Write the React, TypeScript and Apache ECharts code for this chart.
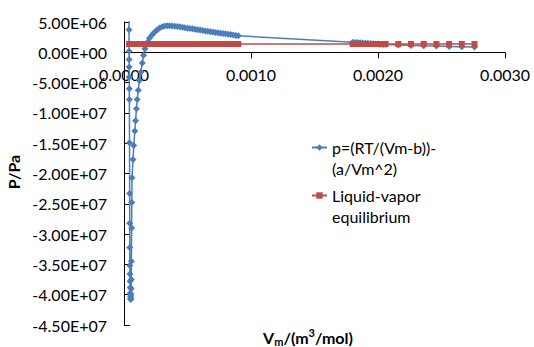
import React, { useEffect, useRef } from "react";
import * as echarts from "echarts";

// Axis ranges / ticks
const X_MIN = 0;
const X_MAX = 0.003;
const X_STEP = 0.001;
const Y_MIN = -4.5e7;
const Y_MAX = 5e6;
const Y_STEP = 5e6;

const seriesNames = ["p=(RT/(Vm-b))-(a/Vm^2)", "Liquid-vapor equilibrium"];
const legendLabels: Record<string, string> = {
  "p=(RT/(Vm-b))-(a/Vm^2)": "p=(RT/(Vm-b))-\n(a/Vm^2)",
  "Liquid-vapor equilibrium": "Liquid-vapor\nequilibrium",
};

// van der Waals isotherm: [Vm (m3/mol), p (Pa)]
const vdwLiquidBranch: [number, number][] = [
  [3.9e-5, 1.2e7], [3.95e-5, 3.74e6], [4.0e-5, 1.6e5], [4.05e-5, -1.2e6],
  [4.1e-5, -2.41e6], [4.15e-5, -4.06e6], [4.2e-5, -6.03e6], [4.25e-5, -7.8e6],
  [4.35e-5, -1.494e7], [4.45e-5, -2.33e7], [4.5e-5, -2.82e7], [4.55e-5, -3.22e7],
  [4.6e-5, -3.52e7], [4.7e-5, -3.66e7], [4.8e-5, -3.78e7], [4.9e-5, -3.88e7],
  [5.0e-5, -3.97e7], [5.1e-5, -4.03e7], [5.2e-5, -4.07e7], [5.3e-5, -4.08e7],
  [5.4e-5, -4.06e7], [5.5e-5, -4.0e7], [5.6e-5, -3.9e7], [5.7e-5, -3.75e7],
  [5.8e-5, -3.45e7], [6.0e-5, -2.9e7], [6.15e-5, -2.48e7], [6.3e-5, -2.07e7],
  [7.1e-5, -1.77e7], [7.7e-5, -1.54e7], [8.5e-5, -1.3e7], [9.1e-5, -1.13e7],
  [9.8e-5, -9.33e6], [1.04e-4, -7.8e6], [1.12e-4, -6.26e6], [1.21e-4, -4.67e6],
  [1.32e-4, -3.3e6], [1.44e-4, -1.75e6], [1.54e-4, -5.0e5], [1.65e-4, 6.0e5],
  [1.79e-4, 1.3e6], [1.9e-4, 1.75e6],
];

const vdwHump: [number, number][] = [
  [2.0e-4, 2.3e6], [2.2e-4, 2.85e6], [2.4e-4, 3.3e6], [2.6e-4, 3.7e6],
  [2.8e-4, 4.0e6], [3.0e-4, 4.2e6], [3.2e-4, 4.32e6], [3.4e-4, 4.38e6],
  [3.6e-4, 4.38e6], [3.8e-4, 4.35e6], [4.0e-4, 4.3e6], [4.2e-4, 4.25e6],
  [4.4e-4, 4.2e6], [4.6e-4, 4.12e6], [4.8e-4, 4.05e6], [5.0e-4, 3.98e6],
  [5.2e-4, 3.92e6], [5.4e-4, 3.87e6], [5.6e-4, 3.8e6], [5.8e-4, 3.73e6],
  [6.0e-4, 3.66e6], [6.2e-4, 3.6e6], [6.4e-4, 3.53e6], [6.6e-4, 3.46e6],
  [6.8e-4, 3.4e6], [7.0e-4, 3.34e6], [7.2e-4, 3.28e6], [7.4e-4, 3.22e6],
  [7.6e-4, 3.16e6], [7.8e-4, 3.1e6], [8.0e-4, 3.05e6], [8.2e-4, 2.98e6],
  [8.4e-4, 2.92e6], [8.6e-4, 2.85e6], [8.8e-4, 2.78e6], [9.0e-4, 2.72e6],
];

const vdwGasBranch: [number, number][] = [
  [1.80e-3, 1.66e6], [1.82e-3, 1.63e6], [1.84e-3, 1.6e6], [1.86e-3, 1.57e6],
  [1.88e-3, 1.54e6], [1.90e-3, 1.51e6], [1.92e-3, 1.48e6], [1.94e-3, 1.45e6],
  [1.96e-3, 1.42e6], [1.98e-3, 1.39e6], [2.00e-3, 1.36e6], [2.02e-3, 1.33e6],
  [2.04e-3, 1.3e6], [2.06e-3, 1.27e6],
  [2.16e-3, 1.2e6], [2.26e-3, 1.13e6], [2.36e-3, 1.07e6], [2.46e-3, 1.02e6],
  [2.56e-3, 9.7e5], [2.66e-3, 9.3e5], [2.76e-3, 8.9e5],
];

// Liquid-vapor equilibrium (constant pressure line)
const equilibriumP = 1.37e6;
const equilibriumVm: number[] = [
  4e-5, 6e-5, 8e-5, 1.0e-4, 1.2e-4, 1.4e-4, 1.6e-4, 1.8e-4, 2.0e-4, 2.2e-4,
  2.4e-4, 2.6e-4, 2.8e-4, 3.0e-4, 3.2e-4, 3.4e-4, 3.6e-4, 3.8e-4, 4.0e-4, 4.2e-4,
  4.4e-4, 4.6e-4, 4.8e-4, 5.0e-4, 5.2e-4, 5.4e-4, 5.6e-4, 5.8e-4, 6.0e-4, 6.2e-4,
  6.4e-4, 6.6e-4, 6.8e-4, 7.0e-4, 7.2e-4, 7.4e-4, 7.6e-4, 7.8e-4, 8.0e-4, 8.2e-4,
  8.4e-4, 8.6e-4, 8.8e-4, 9.0e-4,
  1.80e-3, 1.82e-3, 1.84e-3, 1.86e-3, 1.88e-3, 1.90e-3, 1.92e-3, 1.94e-3,
  1.96e-3, 1.98e-3, 2.00e-3, 2.02e-3, 2.04e-3, 2.06e-3,
  2.16e-3, 2.26e-3, 2.36e-3, 2.46e-3, 2.56e-3, 2.66e-3, 2.76e-3,
];

const BLUE = "#4A7EBB";
const RED = "#BE4B48";
const FONT = "Lato";

const GRID = { left: 124, top: 22, width: 381, height: 303 };

function sci(v: number): string {
  if (Math.abs(v) < 1e-3) return "0.00E+00";
  const e = Math.floor(Math.log10(Math.abs(v)) + 1e-9);
  const m = v / Math.pow(10, e);
  return m.toFixed(2) + "E" + (e < 0 ? "-" : "+") + String(Math.abs(e)).padStart(2, "0");
}

export default function App() {
  const ref = useRef<HTMLDivElement>(null);
  useEffect(() => {
    if (!ref.current) return;
    const chart = echarts.init(ref.current, undefined, { renderer: "svg" });
    const blueData = [...vdwLiquidBranch, ...vdwHump, ...vdwGasBranch];
    const redData = equilibriumVm.map((v) => [v, equilibriumP]);
    // x axis crosses the value axis at p = 0
    const xAxisOffset = -GRID.height * ((0 - Y_MIN) / (Y_MAX - Y_MIN));
    const legendCommon = {
      orient: "vertical" as const,
      left: 311,
      itemWidth: 15,
      itemHeight: 8,
      padding: 0,
      selectedMode: false,
      // leading blank line keeps the icon level with the first text line
      formatter: (n: string) => "\n" + (legendLabels[n] ?? n),
      textStyle: {
        fontFamily: FONT,
        fontSize: 16,
        color: "#000",
        lineHeight: 21,
      },
    };
    chart.setOption({
      animation: false,
      textStyle: { fontFamily: FONT },
      grid: { ...GRID, containLabel: false, outerBoundsMode: "none" },
      xAxis: {
        type: "value",
        position: "bottom",
        offset: xAxisOffset,
        min: X_MIN,
        max: X_MAX,
        interval: X_STEP,
        axisLine: { show: true, onZero: false, lineStyle: { color: "#000", width: 1 } },
        axisTick: { show: true, inside: false, length: 6, lineStyle: { color: "#000" } },
        axisLabel: {
          formatter: (v: number) => v.toFixed(4),
          color: "#000",
          fontSize: 16,
          fontFamily: FONT,
          margin: 14,
        },
        splitLine: { show: false },
      },
      yAxis: {
        type: "value",
        min: Y_MIN,
        max: Y_MAX,
        interval: Y_STEP,
        axisLine: { show: true, onZero: false, lineStyle: { color: "#000", width: 1 } },
        axisTick: { show: true, inside: true, length: 6, lineStyle: { color: "#000" } },
        axisLabel: { formatter: sci, color: "#000", fontSize: 16, fontFamily: FONT, margin: 17 },
        splitLine: { show: false },
      },
      legend: [
        { ...legendCommon, top: 116, data: [seriesNames[0]] },
        { ...legendCommon, top: 164, data: [seriesNames[1]] },
      ],
      series: [
        {
          name: seriesNames[0],
          type: "line",
          data: blueData,
          symbol: "diamond",
          symbolSize: 7,
          showAllSymbol: true,
          clip: true,
          lineStyle: { color: BLUE, width: 1.5 },
          itemStyle: { color: BLUE },
          emphasis: { disabled: true },
          z: 2,
        },
        {
          name: seriesNames[1],
          type: "line",
          data: redData,
          symbol: "rect",
          symbolSize: 6,
          showAllSymbol: true,
          clip: true,
          lineStyle: { color: RED, width: 1.5 },
          itemStyle: { color: RED },
          emphasis: { disabled: true },
          z: 3,
        },
      ],
      graphic: [
        {
          type: "text",
          x: 13,
          y: 172,
          rotation: Math.PI / 2,
          style: {
            text: "P/Pa",
            fontFamily: FONT,
            fontSize: 16,
            fontWeight: "bold",
            fill: "#000",
            align: "center",
            verticalAlign: "middle",
          },
        },
        {
          type: "text",
          x: 308,
          y: 337,
          style: {
            text: "{b|V}{s|m}{b|/(m}{p|3}{b|/mol)}",
            align: "center",
            verticalAlign: "middle",
            rich: {
              b: { fontFamily: FONT, fontSize: 16, fontWeight: "bold", fill: "#000", lineHeight: 20 },
              s: { fontFamily: FONT, fontSize: 11, fontWeight: "bold", fill: "#000", lineHeight: 13, verticalAlign: "bottom" },
              p: { fontFamily: FONT, fontSize: 11, fontWeight: "bold", fill: "#000", lineHeight: 13, verticalAlign: "top" },
            },
          },
        },
      ],
    });
    return () => chart.dispose();
  }, []);
  return (
    <div
      ref={ref}
      style={{ position: "absolute", left: 0, top: 0, width: 534, height: 347, background: "#fff" }}
    />
  );
}
